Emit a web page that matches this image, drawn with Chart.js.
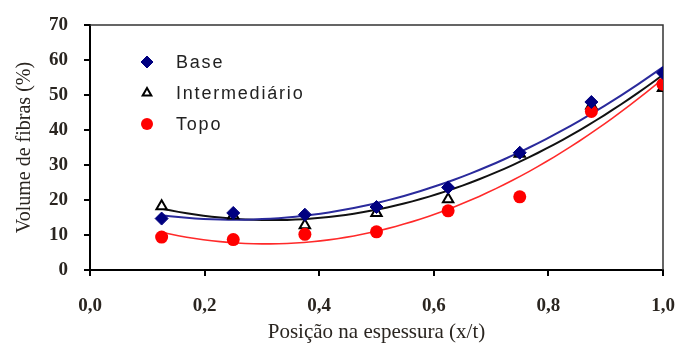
<!DOCTYPE html>
<html>
<head>
<meta charset="utf-8">
<script src="https://cdn.jsdelivr.net/npm/chart.js@4.4.0/dist/chart.umd.min.js"></script>
<style>
  body { margin: 0; background: #fff; }
  #wrap { width: 680px; height: 347px; position: relative; }
</style>
</head>
<body>
<div id="wrap"><canvas id="fibrasChart"></canvas></div>
<script>
// Volume de fibras vs posicao na espessura
const positions = [0.125, 0.25, 0.375, 0.5, 0.625, 0.75, 0.875, 1.0];
const baseValues = [14.7, 16.3, 15.8, 18.0, 23.6, 33.5, 48.0, 56.3];
const intermValues = [18.2, 15.6, 12.8, 16.3, 20.2, 33.2, 47.0, 52.0];
const topoValues = [9.4, 8.7, 10.2, 10.9, 16.9, 20.9, 45.3, 53.1];
const seriesLabels = ['Base', 'Intermediário', 'Topo'];
const xTicks = [0, 0.2, 0.4, 0.6, 0.8, 1.0];
const yTicks = [0, 10, 20, 30, 40, 50, 60, 70];

// least squares 2nd order polynomial (same trend as the spreadsheet)
function polyFit2(xs, ys) {
    let s = [0, 0, 0, 0, 0], t = [0, 0, 0];
    xs.forEach((x, i) => {
        for (let k = 0; k < 5; k++) s[k] += Math.pow(x, k);
        for (let k = 0; k < 3; k++) t[k] += ys[i] * Math.pow(x, k);
    });
    const m = [
        [s[0], s[1], s[2], t[0]],
        [s[1], s[2], s[3], t[1]],
        [s[2], s[3], s[4], t[2]]
    ];
    for (let c = 0; c < 3; c++) {
        for (let r = c + 1; r < 3; r++) {
            const f = m[r][c] / m[c][c];
            for (let k = c; k < 4; k++) m[r][k] -= f * m[c][k];
        }
    }
    const a = [0, 0, 0];
    for (let r = 2; r >= 0; r--) {
        let v = m[r][3];
        for (let k = r + 1; k < 3; k++) v -= m[r][k] * a[k];
        a[r] = v / m[r][r];
    }
    return a;
}

function trendPoints(xs, ys) {
    const a = polyFit2(xs, ys);
    const pts = [];
    const x0 = xs[0], x1 = xs[xs.length - 1];
    for (let i = 0; i <= 60; i++) {
        const x = x0 + (x1 - x0) * i / 60;
        pts.push({ x: x, y: a[0] + a[1] * x + a[2] * x * x });
    }
    return pts;
}

const toXY = vals => positions.map((x, i) => ({ x: x, y: vals[i] }));

const markerStyles = [
    { pointStyle: 'rectRot', radius: 6.5, backgroundColor: '#000080', borderColor: '#000080', borderWidth: 1 },
    { pointStyle: 'triangle', radius: 6, backgroundColor: '#ffffff', borderColor: '#000000', borderWidth: 2 },
    { pointStyle: 'circle', radius: 6.5, backgroundColor: '#ff0000', borderColor: '#ff0000', borderWidth: 0 }
];
const lineColors = ['#2a2a9c', '#111111', '#ff2a2a'];
const allValues = [baseValues, intermValues, topoValues];
const markerOrder = [1, 3, 2];

const datasets = [];
allValues.forEach((vals, i) => {
    datasets.push({
        type: 'line',
        label: seriesLabels[i] + ' (tendência)',
        data: trendPoints(positions, vals),
        borderColor: lineColors[i],
        borderWidth: i === 2 ? 1.6 : 2,
        pointRadius: 0,
        fill: false,
        tension: 0,
        order: 10 + i
    });
});
allValues.forEach((vals, i) => {
    const m = markerStyles[i];
    datasets.push({
        type: 'scatter',
        label: seriesLabels[i],
        data: toXY(vals),
        pointStyle: m.pointStyle,
        pointRadius: m.radius,
        pointHoverRadius: m.radius,
        pointBackgroundColor: m.backgroundColor,
        pointBorderColor: m.borderColor,
        pointBorderWidth: m.borderWidth,
        showLine: false,
        order: markerOrder[i]
    });
});

// box around the plot and the inner legend
const frameAndLegend = {
    id: 'frameAndLegend',
    beforeDatasetsDraw(chart) {
        const { ctx, chartArea: a } = chart;
        ctx.save();
        ctx.strokeStyle = '#333';
        ctx.lineWidth = 1.5;
        ctx.beginPath();
        ctx.moveTo(a.left, a.top);
        ctx.lineTo(a.right, a.top);
        ctx.lineTo(a.right, a.bottom);
        ctx.stroke();
        ctx.restore();
    },
    afterDraw(chart) {
        const { ctx } = chart;
        ctx.save();
        seriesLabels.forEach((label, i) => {
            const y = 62 + i * 31;
            const m = markerStyles[i];
            ctx.fillStyle = m.backgroundColor;
            ctx.strokeStyle = m.borderColor;
            ctx.lineWidth = m.borderWidth;
            Chart.helpers.drawPoint(ctx, {
                pointStyle: m.pointStyle,
                radius: i === 1 ? 5 : 6,
                rotation: 0,
                borderWidth: m.borderWidth
            }, 147, y);
            ctx.fillStyle = '#222';
            ctx.font = '18px "Liberation Sans", Arial, sans-serif';
            ctx.letterSpacing = '1.8px';
            ctx.textBaseline = 'middle';
            ctx.textAlign = 'left';
            ctx.fillText(label, 176, y + 1);
        });
        ctx.restore();
    }
};

const ctx = document.getElementById('fibrasChart').getContext('2d');
new Chart(ctx, {
    data: { datasets: datasets },
    options: {
        responsive: true,
        maintainAspectRatio: false,
        animation: false,
        layout: { padding: { top: 25, right: 17, left: 0, bottom: 0 } },
        plugins: {
            legend: { display: false },
            tooltip: { enabled: false }
        },
        scales: {
            x: {
                type: 'linear',
                min: 0,
                max: 1,
                afterFit: s => { s.height = 77; s.paddingLeft = 0; s.paddingRight = 0; },
                afterBuildTicks: s => { s.ticks = xTicks.map(v => ({ value: v })); },
                grid: { drawOnChartArea: false, drawTicks: true, tickLength: 6, color: '#000', lineWidth: 2 },
                border: { display: true, color: '#000', width: 2 },
                ticks: {
                    padding: 19,
                    color: '#2a2520',
                    font: { family: '"Liberation Serif", "Times New Roman", serif', size: 19, weight: 'bold' },
                    callback: v => v.toFixed(1).replace('.', ',')
                },
                title: {
                    display: true,
                    text: 'Posição na espessura (x/t)',
                    color: '#2a2520',
                    font: { family: '"Liberation Serif", "Times New Roman", serif', size: 21 },
                    padding: { top: 0, bottom: 2 }
                }
            },
            y: {
                type: 'linear',
                min: 0,
                max: 70,
                afterFit: s => { s.width = 90; s.paddingTop = 0; s.paddingBottom = 0; },
                afterBuildTicks: s => { s.ticks = yTicks.map(v => ({ value: v })); },
                grid: { drawOnChartArea: false, drawTicks: true, tickLength: 6, color: '#000', lineWidth: 2 },
                border: { display: true, color: '#000', width: 2 },
                ticks: {
                    padding: 16,
                    color: '#2a2520',
                    font: { family: '"Liberation Serif", "Times New Roman", serif', size: 19, weight: 'bold' }
                },
                title: {
                    display: true,
                    text: 'Volume de fibras (%)',
                    color: '#2a2520',
                    font: { family: '"Liberation Serif", "Times New Roman", serif', size: 20 },
                    padding: { top: 13, bottom: 0 }
                }
            }
        }
    },
    plugins: [frameAndLegend]
});
</script>
</body>
</html>
